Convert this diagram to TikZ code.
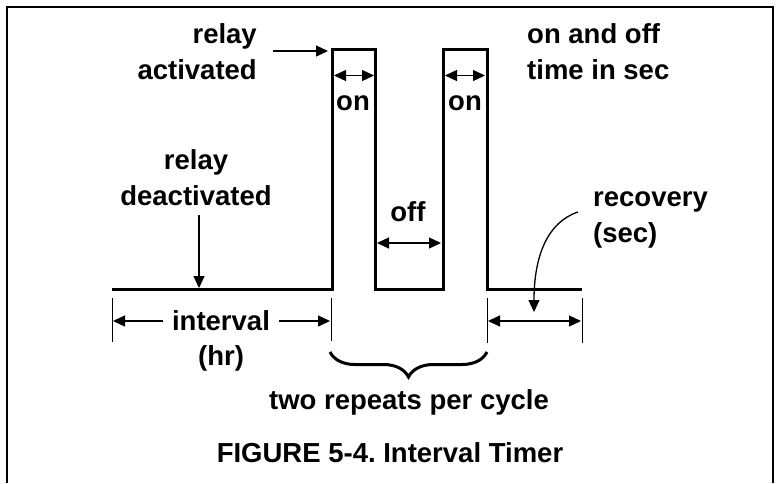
\documentclass[tikz,border=0pt]{standalone}
\usepackage{fontspec}
\setmainfont{Liberation Sans}
\usetikzlibrary{arrows.meta,decorations.pathreplacing}
\frenchspacing
\begin{document}
\begin{tikzpicture}[x=1pt,y=-1pt,
  lbl/.style={font=\fontsize{27.5}{36}\selectfont\bfseries\frenchspacing, inner sep=0pt},
  wave/.style={line width=3pt, line join=miter},
  frame/.style={line width=2.8pt},
  pointer/.style={line width=1.3pt, -{Triangle[length=12pt,width=11pt]}},
  dim/.style={line width=1.3pt, {Triangle[length=12pt,width=11pt]}-{Triangle[length=12pt,width=11pt]}},
  tick/.style={line width=1pt},
  bracestyle/.style={line width=3pt, decorate, decoration={brace, mirror, amplitude=25pt}}]
\useasboundingbox (0,0) rectangle (777,483);
% frame
\draw[frame] (7,483) -- (7,7) -- (773,7) -- (773,483);
% waveform
\coordinate (w0) at (112,289);
\coordinate (w1) at (332,289);
\coordinate (w2) at (332,49);
\coordinate (w3) at (375,49);
\coordinate (w4) at (375,289);
\coordinate (w5) at (443,289);
\coordinate (w6) at (443,49);
\coordinate (w7) at (487,49);
\coordinate (w8) at (487,289);
\coordinate (w9) at (582,289);
\draw[wave] (w0) -- (w1) -- (w2) -- (w3) -- (w4) -- (w5) -- (w6) -- (w7) -- (w8) -- (w9);
% labels
\node[lbl, align=right, anchor=east] (act) at (257,52) {relay\\activated};
\node[lbl, align=center] (deact) at (196,178) {relay\\deactivated};
\node[lbl, align=left, anchor=west] (onoff) at (527,52) {on and off\\time in sec};
\node[lbl, align=left, anchor=west] (rec) at (593,220) {recovery\\(sec)};
\node[lbl] (on1) at (353,103) {on};
\node[lbl] (on2) at (465,103) {on};
\node[lbl] (off) at (408,212) {off};
\node[lbl] (intv) at (221,321) {interval};
\node[lbl] (hr) at (221,358) {(hr)};
\node[lbl] (rep) at (409,402) {two repeats per cycle};
\node[lbl] (fig) at (390,453) {FIGURE 5-4. Interval Timer};
% relay activated pointer
\coordinate (aS) at (273,51);
\coordinate (aE) at (328,51);
\draw[pointer] (aS) -- (aE);
% relay deactivated pointer
\coordinate (dS) at (199,215);
\coordinate (dE) at (199,288);
\draw[pointer] (dS) -- (dE);
% on / off dimension arrows
\coordinate (on1a) at (334,75.5);
\coordinate (on1b) at (374,75.5);
\coordinate (on2a) at (445,75.5);
\coordinate (on2b) at (485,75.5);
\draw[dim] (on1a) -- (on1b);
\draw[dim] (on2a) -- (on2b);
\coordinate (offa) at (377,243);
\coordinate (offb) at (441,243);
\draw[dim] (offa) -- (offb);
% interval dimension
\coordinate (t1a) at (112,298);
\coordinate (t1b) at (112,342);
\coordinate (t2a) at (331,298);
\coordinate (t2b) at (331,341);
\draw[tick] (t1a) -- (t1b);
\draw[tick] (t2a) -- (t2b);
\coordinate (i1s) at (163,321);
\coordinate (i1e) at (113,321);
\coordinate (i2s) at (279,321);
\coordinate (i2e) at (330,321);
\draw[pointer] (i1s) -- (i1e);
\draw[pointer] (i2s) -- (i2e);
% recovery dimension
\coordinate (t3a) at (487,298);
\coordinate (t3b) at (487,343);
\coordinate (t4a) at (582,298);
\coordinate (t4b) at (582,343);
\draw[tick] (t3a) -- (t3b);
\draw[tick] (t4a) -- (t4b);
\coordinate (r1) at (488,321);
\coordinate (r2) at (581,321);
\draw[dim] (r1) -- (r2);
% recovery pointer
\coordinate (cS) at (578,212);
\coordinate (cE) at (534,312);
\draw[pointer] (cS) .. controls (548,222) and (534,255) .. (cE);
% brace
\coordinate (b1) at (330,352);
\coordinate (b2) at (487,352);
\draw[bracestyle] (b1) -- (b2);
\end{tikzpicture}
\end{document}
